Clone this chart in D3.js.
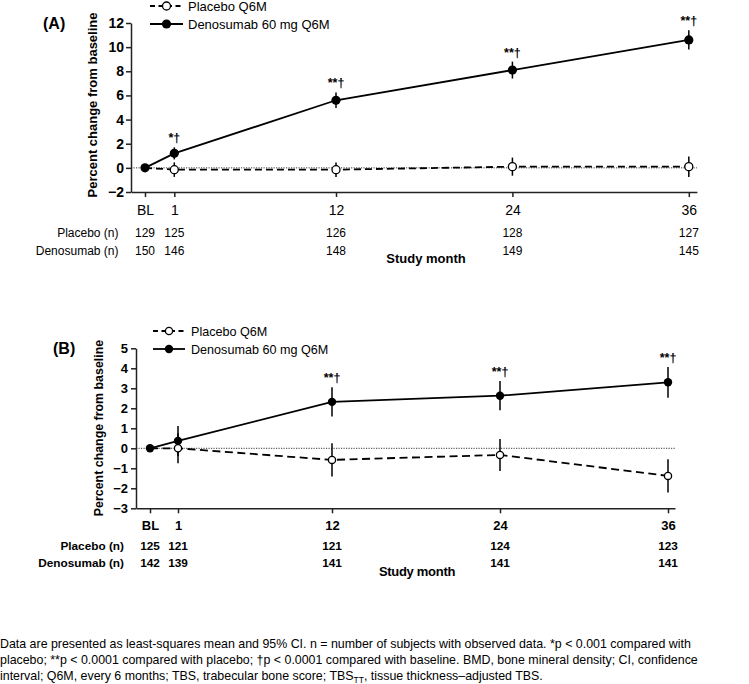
<!DOCTYPE html>
<html>
<head>
<meta charset="utf-8">
<script src="https://cdn.jsdelivr.net/npm/d3@7"></script>
<style>
  html, body { margin: 0; padding: 0; background: #fff; }
  svg { display: block; font-family: "Liberation Sans", Arial, Helvetica, sans-serif; }
  text { fill: #000; }
</style>
</head>
<body>
<svg id="chart" width="749" height="684"></svg>
<script>
// ---------- Data ----------
const months = [0, 1, 12, 24, 36];
const monthLabels = ["BL", "1", "12", "24", "36"];

// Panel A
const denoA = [0, 1.2, 5.6, 8.1, 10.6];
const denoA_ci = [0, 0.5, 0.65, 0.7, 0.8];
const placA = [0, -0.15, -0.15, 0.1, 0.1];
const placA_ci = [0, 0.6, 0.6, 0.75, 0.85];
const annotA = ["", "*†", "**†", "**†", "**†"];
const nPlacA = [129, 125, 126, 128, 127];
const nDenoA = [150, 146, 148, 149, 145];
const yTicksA = [-2, 0, 2, 4, 6, 8, 10, 12];

// Panel B
const denoB = [0, 0.37, 2.32, 2.63, 3.3];
const denoB_ci = [0, 0.75, 0.73, 0.73, 0.77];
const placB = [0, 0, -0.58, -0.33, -1.38];
const placB_ci = [0, 0.75, 0.83, 0.8, 0.83];
const annotB = ["", "", "**†", "**†", "**†"];
const nPlacB = [125, 121, 121, 124, 123];
const nDenoB = [142, 139, 141, 141, 141];
const yTicksB = [-3, -2, -1, 0, 1, 2, 3, 4, 5];

const legendLabels = ["Placebo Q6M", "Denosumab 60 mg Q6M"];
const rowLabels = ["Placebo (n)", "Denosumab (n)"];
const rowLabelsB = ["Placebo (n)", "Denosumab (n)"];

const footnote = [
  "Data are presented as least-squares mean and 95% CI. n = number of subjects with observed data. *p < 0.001 compared with",
  "placebo; **p < 0.0001 compared with  placebo; †p < 0.0001 compared with baseline. BMD, bone mineral density; CI, confidence"
];

// ---------- Drawing ----------
const svg = d3.select("#chart");

function panel(cfg) {
  const g = svg.append("g");
  const x = d3.scaleLinear().domain(cfg.xDomain).range(cfg.xRange);
  const y = d3.scaleLinear().domain(cfg.yDomain).range(cfg.yRange);
  const x0 = cfg.xRange[0], x1 = cfg.xRange[cfg.xRange.length - 1];

  // zero reference line
  g.append("line")
    .attr("x1", x0).attr("x2", x1)
    .attr("y1", y(0)).attr("y2", y(0))
    .attr("stroke", "#222").attr("stroke-width", 0.9)
    .attr("stroke-dasharray", "1.2,1.3");

  // axes
  const yAxis = d3.axisLeft(y).tickValues(cfg.yTicks).tickSize(5).tickSizeOuter(0).tickPadding(cfg.yPad);
  const gy = g.append("g").attr("transform", `translate(${x0},0)`).call(yAxis);
  gy.selectAll("path,line").attr("stroke", "#222").attr("stroke-width", 1.5);
  gy.selectAll("text").attr("font-size", cfg.yTickSize).attr("font-weight", "bold").attr("fill", "#000")
    .attr("font-family", "Liberation Sans, Arial, sans-serif");

  const xAxis = d3.axisBottom(x).tickValues(months).tickFormat((d, i) => monthLabels[i])
    .tickSize(5).tickSizeOuter(0).tickPadding(cfg.xPad);
  const gx = g.append("g").attr("transform", `translate(0,${cfg.yRange[0]})`).call(xAxis);
  gx.selectAll("path,line").attr("stroke", "#222").attr("stroke-width", 1.5);
  gx.selectAll("text").attr("font-size", cfg.xTickSize).attr("font-weight", cfg.xTickWeight).attr("fill", "#000")
    .attr("font-family", "Liberation Sans, Arial, sans-serif");

  const pts = (vals) => months.map((m, i) => [m, vals[i]]);
  const line = d3.line().x(d => x(d[0])).y(d => y(d[1]));

  // placebo line
  g.append("path").datum(pts(cfg.plac)).attr("d", line)
    .attr("fill", "none").attr("stroke", "#000").attr("stroke-width", 1.8)
    .attr("stroke-dasharray", cfg.dash);
  // denosumab line
  g.append("path").datum(pts(cfg.deno)).attr("d", line)
    .attr("fill", "none").attr("stroke", "#000").attr("stroke-width", 1.8);

  // error bars
  const bars = (vals, ci) => months.map((m, i) => ({ m, v: vals[i], c: ci[i] })).filter(d => d.c > 0);
  g.selectAll(null).data(bars(cfg.plac, cfg.placCi)).enter().append("line")
    .attr("x1", d => x(d.m)).attr("x2", d => x(d.m))
    .attr("y1", d => y(d.v - d.c)).attr("y2", d => y(d.v + d.c))
    .attr("stroke", "#000").attr("stroke-width", 1.5);
  g.selectAll(null).data(bars(cfg.deno, cfg.denoCi)).enter().append("line")
    .attr("x1", d => x(d.m)).attr("x2", d => x(d.m))
    .attr("y1", d => y(d.v - d.c)).attr("y2", d => y(d.v + d.c))
    .attr("stroke", "#000").attr("stroke-width", 1.5);

  // markers
  g.selectAll(null).data(pts(cfg.plac).slice(1)).enter().append("circle")
    .attr("cx", d => x(d[0])).attr("cy", d => y(d[1])).attr("r", cfg.r - 0.6)
    .attr("fill", "#fff").attr("stroke", "#000").attr("stroke-width", 1.3);
  g.selectAll(null).data(pts(cfg.deno)).enter().append("circle")
    .attr("cx", d => x(d[0])).attr("cy", d => y(d[1])).attr("r", cfg.r)
    .attr("fill", "#000");

  // significance annotations
  g.selectAll(null).data(months.map((m, i) => ({ m, v: cfg.deno[i] + cfg.denoCi[i], t: cfg.annot[i] })).filter(d => d.t))
    .enter().append("text")
    .attr("x", d => x(d.m)).attr("y", d => y(d.v) - 5)
    .attr("text-anchor", "middle").attr("font-size", 12.5).attr("font-weight", "bold")
    .attr("fill", "#000").style("fill", "#000")
    .text(d => d.t);

  // legend
  const lg = g.append("g");
  const lx0 = cfg.legend[0], lx1 = cfg.legend[1], ly = cfg.legend[2], lstep = cfg.legend[3];
  lg.append("line").attr("x1", lx0).attr("x2", lx1).attr("y1", ly).attr("y2", ly)
    .attr("stroke", "#000").attr("stroke-width", 1.8).attr("stroke-dasharray", "5,3.5");
  lg.append("circle").attr("cx", (lx0 + lx1) / 2).attr("cy", ly).attr("r", cfg.r - 0.6)
    .attr("fill", "#fff").attr("stroke", "#000").attr("stroke-width", 1.3);
  lg.append("line").attr("x1", lx0).attr("x2", lx1).attr("y1", ly + lstep).attr("y2", ly + lstep)
    .attr("stroke", "#000").attr("stroke-width", 1.8);
  lg.append("circle").attr("cx", (lx0 + lx1) / 2).attr("cy", ly + lstep).attr("r", cfg.r)
    .attr("fill", "#000");
  legendLabels.forEach((t, i) => {
    lg.append("text").attr("x", cfg.legend[4]).attr("y", ly + i * lstep + 4.6)
      .attr("font-size", cfg.legendSize).text(t);
  });

  // panel letter
  g.append("text").attr("x", cfg.letterPos[0]).attr("y", cfg.letterPos[1])
    .attr("font-size", 16).attr("font-weight", "bold").text(cfg.letter);

  // y label
  g.append("text")
    .attr("transform", `translate(${cfg.ylabPos[0]},${cfg.ylabPos[1]}) rotate(-90)`)
    .attr("text-anchor", "middle").attr("font-size", cfg.ylabSize).attr("font-weight", "bold")
    .text("Percent change from baseline");

  // n rows
  [cfg.nPlac, cfg.nDeno].forEach((arr, r) => {
    const by = cfg.rowY[r];
    g.append("text").attr("x", cfg.rowLabelX).attr("y", by).attr("text-anchor", "end")
      .attr("font-size", cfg.rowSize).attr("font-weight", cfg.rowWeight).text(cfg.rowLabels[r]);
    g.selectAll(null).data(arr).enter().append("text")
      .attr("x", (d, i) => x(months[i])).attr("y", by).attr("text-anchor", "middle")
      .attr("font-size", cfg.rowSize).attr("font-weight", cfg.rowWeight).text(d => d);
  });

  // x title
  g.append("text").attr("x", cfg.xTitlePos[0]).attr("y", cfg.xTitlePos[1])
    .attr("text-anchor", "middle").attr("font-size", 13).attr("font-weight", "bold")
    .attr("letter-spacing", cfg.xTitleLS)
    .text("Study month");
}

panel({
  letter: "(A)", letterPos: [43, 29],
  xDomain: [-0.95, 0, 1, 36.55], xRange: [131, 145, 174.3, 696.9],
  yDomain: [-2, 12], yRange: [192, 23], yTicks: yTicksA,
  yPad: 2, yTickSize: 14, xPad: 8, xTickSize: 14, xTickWeight: "normal",
  deno: denoA, denoCi: denoA_ci, plac: placA, placCi: placA_ci, annot: annotA,
  nPlac: nPlacA, nDeno: nDenoA, rowLabels: rowLabels, rowLabelX: 118.5, rowY: [236.5, 254.5],
  rowSize: 12, rowWeight: "normal",
  r: 4.6, dash: "7,4",
  legend: [150, 183, 6, 18, 188], legendSize: 13,
  ylabPos: [97, 105], ylabSize: 13,
  xTitlePos: [426, 262.5], xTitleLS: 0
});

panel({
  letter: "(B)", letterPos: [53, 354],
  xDomain: [-0.98, 0, 1, 36.5], xRange: [136, 150, 178, 675],
  yDomain: [-3, 5], yRange: [508.3, 348.3], yTicks: yTicksB,
  yPad: 3, yTickSize: 13, xPad: 7, xTickSize: 13, xTickWeight: "bold",
  deno: denoB, denoCi: denoB_ci, plac: placB, placCi: placB_ci, annot: annotB,
  nPlac: nPlacB, nDeno: nDenoB, rowLabels: rowLabelsB, rowLabelX: 124, rowY: [550.3, 567.3],
  rowSize: 11.8, rowWeight: "bold",
  r: 4.2, dash: "8,4.5",
  legend: [153, 185, 331, 18, 191], legendSize: 12.6,
  ylabPos: [102.5, 428], ylabSize: 12.4,
  xTitlePos: [417, 575.5], xTitleLS: -0.3
});

// footnote
const fn = svg.append("g").attr("font-size", 12.4).attr("fill", "#000");
fn.append("text").attr("x", 0).attr("y", 648).text(footnote[0]);
fn.append("text").attr("x", 0).attr("y", 664).text(footnote[1]);
const l3 = fn.append("text").attr("x", 0).attr("y", 680);
l3.append("tspan").text("interval; Q6M, every 6 months; TBS, trabecular bone score; TBS");
l3.append("tspan").attr("font-size", 8.5).attr("dy", 3).text("TT");
l3.append("tspan").attr("dy", -3).text(", tissue thickness–adjusted TBS.");
</script>
</body>
</html>
